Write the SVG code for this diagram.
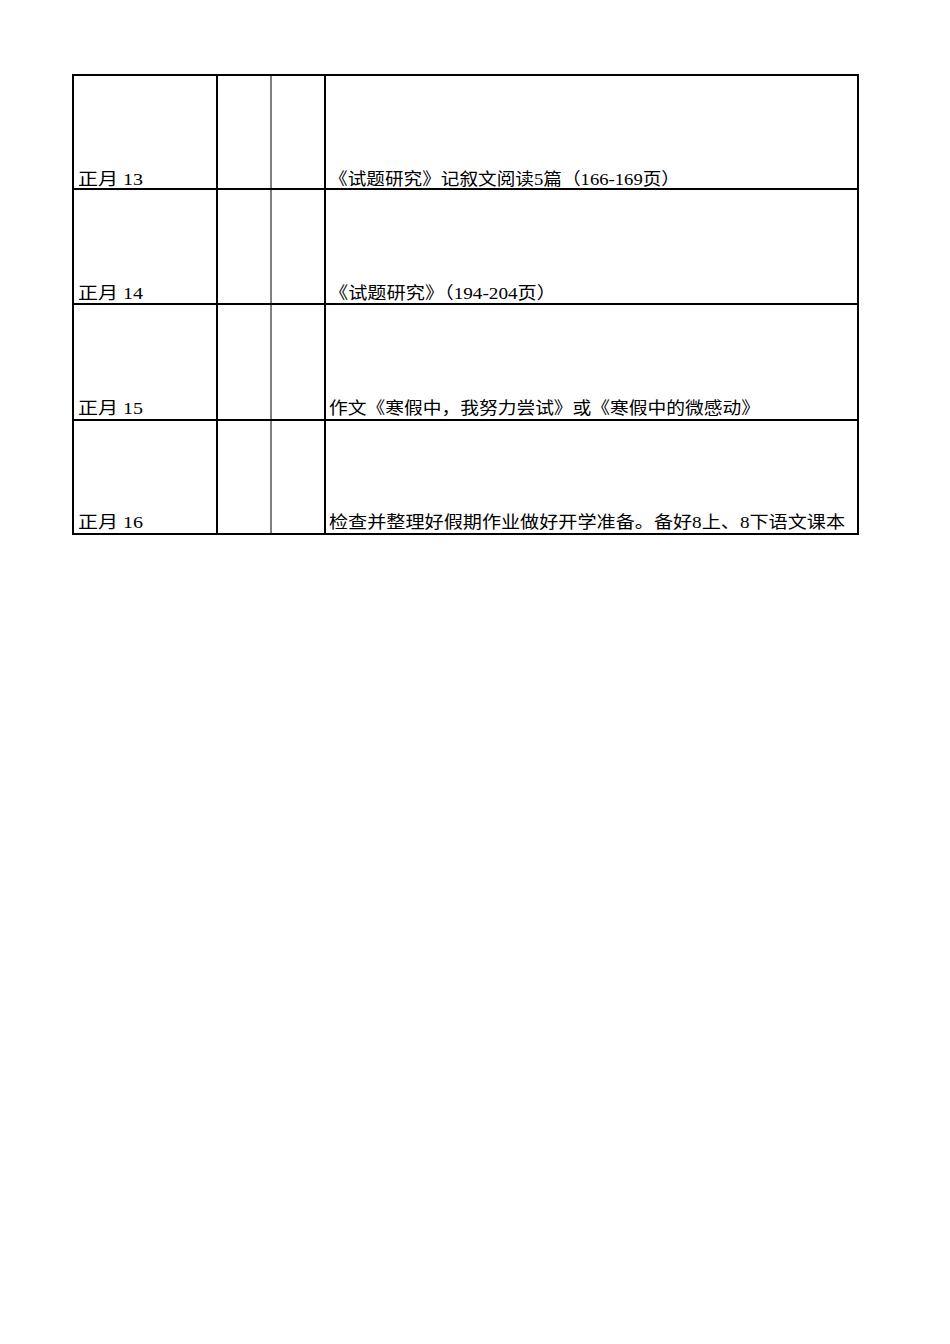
<svg xmlns="http://www.w3.org/2000/svg" width="950" height="1344" viewBox="0 0 950 1344">
<style>
.t{font-family:"Liberation Serif","Noto Sans CJK SC",serif;font-size:17px;fill:#000}
.k{stroke:#000;stroke-width:2;fill:none}
.n{stroke:#000;stroke-width:1;fill:none}
</style>
<rect width="950" height="1344" fill="#fff"/>
<g id="grid">
<rect class="k" x="73" y="75" width="785" height="459"/>
<line class="k" x1="73" y1="189" x2="858" y2="189"/>
<line class="k" x1="73" y1="304" x2="858" y2="304"/>
<line class="k" x1="73" y1="420" x2="858" y2="420"/>
<line class="k" x1="217" y1="75" x2="217" y2="534"/>
<line class="n" x1="271" y1="75" x2="271" y2="534"/>
<line class="k" x1="325" y1="75" x2="325" y2="534"/>
</g>
<g id="row1"><text class="t" x="78" y="185" textLength="65" lengthAdjust="spacingAndGlyphs">正月 13</text><text class="t" x="329" y="185" textLength="351" lengthAdjust="spacingAndGlyphs">《试题研究》记叙文阅读5篇（166-169页）</text></g>
<g id="row2"><text class="t" x="78" y="299" textLength="65" lengthAdjust="spacingAndGlyphs">正月 14</text><text class="t" x="329" y="299" textLength="227" lengthAdjust="spacingAndGlyphs">《试题研究》（194-204页）</text></g>
<g id="row3"><text class="t" x="78" y="414" textLength="65" lengthAdjust="spacingAndGlyphs">正月 15</text><text class="t" x="329" y="414" textLength="431" lengthAdjust="spacingAndGlyphs">作文《寒假中，我努力尝试》或《寒假中的微感动》</text></g>
<g id="row4"><text class="t" x="78" y="528" textLength="65" lengthAdjust="spacingAndGlyphs">正月 16</text><text class="t" x="329" y="528" textLength="516" lengthAdjust="spacingAndGlyphs">检查并整理好假期作业做好开学准备。备好8上、8下语文课本</text></g>
</svg>
